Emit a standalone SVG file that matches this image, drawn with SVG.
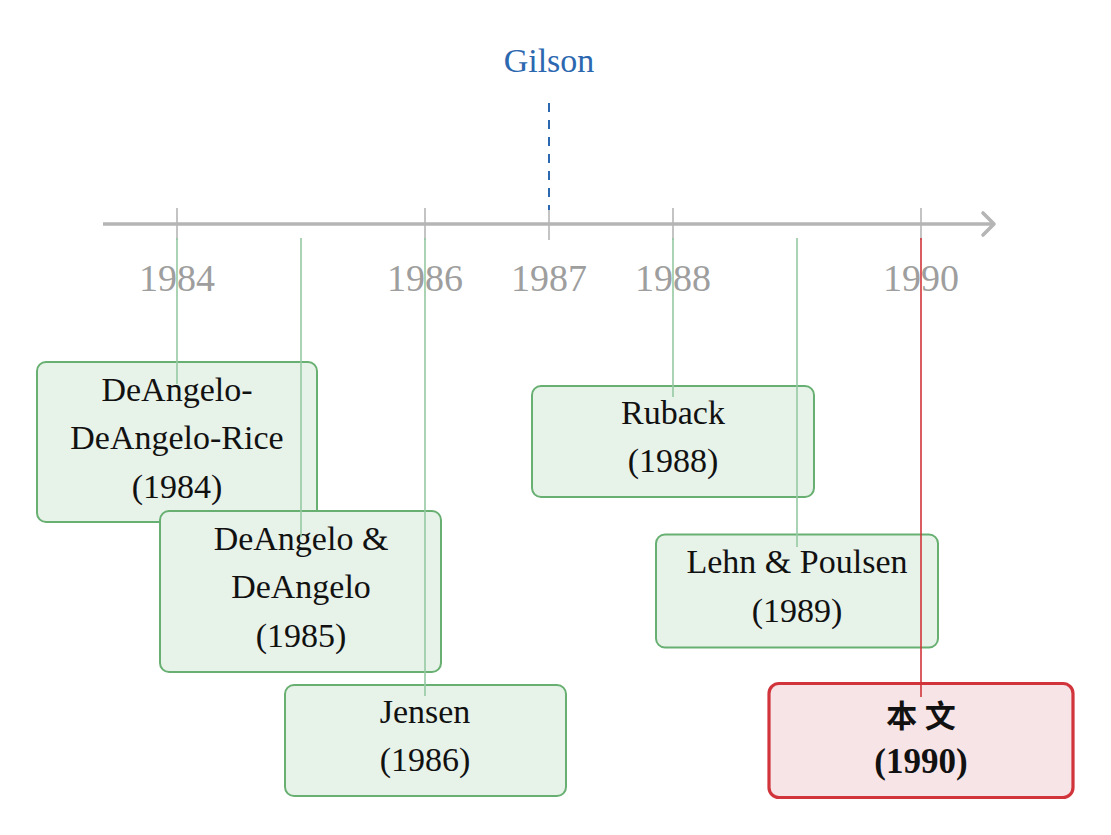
<svg xmlns="http://www.w3.org/2000/svg" width="1111" height="835" viewBox="0 0 1111 835">
<style>
text{font-family:"Liberation Serif","DejaVu Serif","Noto Sans CJK SC",serif;text-anchor:middle}
.yr{font-size:38px;fill:#9e9e9e}
.lbl{font-size:34px;fill:#111}
.gil{font-family:"Liberation Serif",serif;font-size:34px;fill:#2c68b0}
.box{fill:#e7f2e9;stroke:#68b072;stroke-width:2}
.me{fill:#f7e4e6;stroke:#d1343a;stroke-width:3.2}
.tick{stroke:#b5b5b5;stroke-width:1.6}
.con{stroke:#95c9a2;stroke-width:1.6}
.conr{stroke:#d1343a;stroke-width:1.6}
</style>
<rect width="1111" height="835" fill="#fff"/>
<g id="axis">
<line x1="103" y1="224" x2="993" y2="224" stroke="#b5b5b5" stroke-width="3.6"/>
<polyline points="983,213 994,224 983,235" fill="none" stroke="#b5b5b5" stroke-width="3.6" stroke-linecap="round" stroke-linejoin="round"/>
<line class="tick" x1="177" y1="208" x2="177" y2="240"/>
<line class="tick" x1="425" y1="208" x2="425" y2="240"/>
<line class="tick" x1="549" y1="210" x2="549" y2="240"/>
<line class="tick" x1="673" y1="208" x2="673" y2="240"/>
<line class="tick" x1="921" y1="208" x2="921" y2="240"/>
<text class="yr" x="177" y="291">1984</text>
<text class="yr" x="425" y="291">1986</text>
<text class="yr" x="549" y="291">1987</text>
<text class="yr" x="673" y="291">1988</text>
<text class="yr" x="921" y="291">1990</text>
</g>
<g id="gilson">
<text class="gil" x="549" y="72">Gilson</text>
<line x1="549" y1="103" x2="549" y2="210" stroke="#2c68b0" stroke-width="2" stroke-dasharray="9 8"/>
</g>
<g id="n1984">
<rect class="box" x="37" y="362" width="280" height="160" rx="9"/>
<text class="lbl" x="177" y="401">DeAngelo-</text>
<text class="lbl" x="177" y="449">DeAngelo-Rice</text>
<text class="lbl" x="177" y="498">(1984)</text>
</g>
<g id="n1985">
<rect class="box" x="160" y="511" width="281" height="161" rx="9"/>
<text class="lbl" x="301" y="550">DeAngelo &amp;</text>
<text class="lbl" x="301" y="598">DeAngelo</text>
<text class="lbl" x="301" y="647">(1985)</text>
</g>
<g id="n1986">
<rect class="box" x="285" y="685" width="281" height="111" rx="9"/>
<text class="lbl" x="425" y="723">Jensen</text>
<text class="lbl" x="425" y="771">(1986)</text>
</g>
<g id="n1988">
<rect class="box" x="532" y="386" width="282" height="111" rx="9"/>
<text class="lbl" x="673" y="424">Ruback</text>
<text class="lbl" x="673" y="472">(1988)</text>
</g>
<g id="n1989">
<rect class="box" x="656" y="534.5" width="282" height="113" rx="9"/>
<text class="lbl" x="797" y="573">Lehn &amp; Poulsen</text>
<text class="lbl" x="797" y="622">(1989)</text>
</g>
<g id="n1990">
<rect class="me" x="769" y="683.5" width="304" height="114" rx="10"/>
<text x="921" y="727" font-size="31" font-weight="bold" fill="#111">本 文</text>
<text x="921" y="773" font-size="35" font-weight="bold" fill="#111">(1990)</text>
</g>
<g id="connectors">
<line class="con" x1="177" y1="238" x2="177" y2="384"/>
<line class="con" x1="301" y1="238" x2="301" y2="537"/>
<line class="con" x1="425" y1="238" x2="425" y2="696"/>
<line class="con" x1="673" y1="238" x2="673" y2="397"/>
<line class="con" x1="797" y1="238" x2="797" y2="547"/>
<line class="conr" x1="921" y1="238" x2="921" y2="697"/>
</g>
</svg>
